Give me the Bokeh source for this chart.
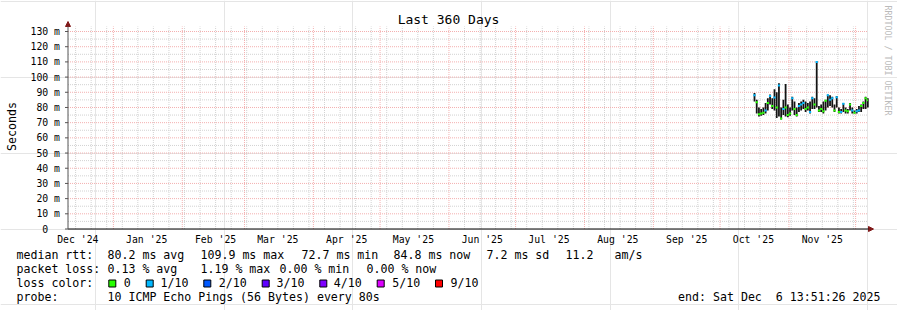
import math
import pandas as pd
from bokeh.plotting import figure
from bokeh.models import Range1d, ColumnDataSource, Arrow, NormalHead
from bokeh.embed import file_html
from bokeh.resources import INLINE
from bokeh.core.properties import value

# ---------------- data ----------------
end_time = "2025-12-06 13:51:26"
span_days = 360
first_day = "2025-10-16"

median_ms = [88.0, 83.5, 75.5, 76.0, 76.5, 78.0, 83.0, 87.5, 81.0, 86.5,
             80.0, 94.5, 72.7, 79.0, 80.0, 75.0, 76.0, 86.0, 79.0, 75.0,
             81.0, 82.0, 83.0, 79.0, 80.0, 77.0, 86.0, 82.0, 109.9, 78.0,
             79.0, 77.5, 84.5, 88.0, 85.0, 86.0, 78.0, 86.7, 77.0, 77.0,
             82.5, 78.0, 77.5, 82.0, 78.0, 76.5, 77.5, 78.0, 81.0, 83.0,
             86.0, 84.8]
smoke_lo_ms = [84, 76, 74, 74.5, 75, 76, 78, 82, 79, 78,
               73, 74, 72, 75, 74, 73.5, 74.5, 78, 75, 74,
               77, 78, 79, 77, 78, 76, 79, 79, 80, 77,
               77, 76, 78, 80, 81, 80, 77, 80, 76, 76,
               77, 76, 76, 78, 76, 76, 76, 77, 77, 79,
               79, 80]
smoke_hi_ms = [89.5, 85, 80, 79, 80, 83, 86, 88.5, 86, 92,
               90, 96, 80, 85, 95.5, 82, 80, 87, 84, 80,
               83, 84, 85, 84, 83, 84, 87, 86, 110.5, 81,
               82, 84, 85, 88.5, 88, 87, 82, 87.5, 80, 79,
               83, 80, 79, 83, 80, 78, 79, 81, 82, 84,
               87, 86]
loss_tenths = [1, 0, 0, 0, 0, 1, 0, 1, 0, 1,
               0, 1, 0, 1, 0, 0, 0, 1, 0, 0,
               1, 1, 1, 0, 0, 1, 1, 0, 1, 0,
               0, 0, 0, 1, 1, 1, 0, 1, 0, 1,
               1, 0, 0, 0, 1, 0, 1, 1, 0, 0,
               0, 0]

loss_levels = ["0", "1/10", "2/10", "3/10", "4/10", "5/10", "9/10"]
loss_colors = ["#26ff00", "#00b8ff", "#0059ff", "#5e00ff", "#7e00ff", "#dd00ff", "#ff0000"]

y_ticks = list(range(0, 131, 10))
y_minor = list(range(5, 131, 10))
y_top = 133.3
y_tick_labels = ["0\u00a0\u00a0"] + ["%d m" % v for v in y_ticks[1:]]

title_text = "Last 360 Days"
y_label = "Seconds"
row_heads = ["median rtt:", "packet loss:", "loss color:", "probe:"]
rtt_items = ["80.2 ms avg", "109.9 ms max", "72.7 ms min", "84.8 ms now", "7.2 ms sd", "11.2", "am/s"]
loss_items = ["0.13 % avg", "1.19 % max", "0.00 % min", "0.00 % now"]
probe_text = "10 ICMP Echo Pings (56 Bytes) every 80s"
end_text = "end: Sat Dec\u00a0\u00a06 13:51:26 2025"
watermark = "RRDTOOL / TOBI OETIKER"

# ---------------- layout constants (pixels) ----------------
W, H = 897, 310
PLOT_L, PLOT_R = 67.5, 867.5      # x of start / end of the time axis
PLOT_B, PLOT_T = 228.5, 26        # y of 0 and of the top limit
MONO = "DejaVu Sans Mono"

# ---------------- scales ----------------
DAY = 86400000.0
END = pd.Timestamp(end_time)
START = END - pd.Timedelta(days=span_days)
end_ms = END.value / 1e6
start_ms = START.value / 1e6
mpp = (end_ms - start_ms) / (PLOT_R - PLOT_L)          # ms per pixel
ppu = (PLOT_B - PLOT_T) / y_top                         # pixels per y unit

p = figure(width=W, height=H, title=None,
           x_range=Range1d(start_ms - PLOT_L * mpp, start_ms + (W - PLOT_L) * mpp),
           y_range=Range1d(-(H - PLOT_B) / ppu, PLOT_B / ppu),
           toolbar_location=None, output_backend="svg", min_border=0,
           x_axis_location=None, y_axis_location=None)
p.extra_x_ranges = {"px": Range1d(0, W)}
p.extra_y_ranges = {"py": Range1d(H, 0)}
p.outline_line_color = None
p.background_fill_color = "white"
p.border_fill_color = "white"

# ---------------- grid ----------------
month_starts = [d.value / 1e6 for d in pd.date_range("2024-12-01", "2025-12-01", freq="MS")]
month_starts = [m for m in month_starts if start_ms < m < end_ms]
week_starts = [d.value / 1e6 for d in pd.date_range("2024-12-08", "2025-12-07", freq="W-SUN")]
week_starts = [w for w in week_starts if start_ms < w < end_ms and w not in month_starts]
label_months = pd.date_range("2024-12-01", "2025-11-01", freq="MS")
label_pos = [(d + pd.Timedelta(days=15)).value / 1e6 for d in label_months]
label_txt = [d.strftime("%b '%y") for d in label_months]

MINOR = "#d2d2d2"
MAJOR = "#f4b0b0"
p.segment(x0=week_starts, y0=0, x1=week_starts, y1=y_top, line_color=MINOR, line_dash="1 1", line_width=1)
p.segment(x0=start_ms, y0=y_minor, x1=end_ms, y1=y_minor, line_color=MINOR, line_dash="1 1", line_width=1)
p.segment(x0=month_starts, y0=0, x1=month_starts, y1=y_top, line_color=MAJOR, line_dash="1 1", line_width=1)
p.segment(x0=start_ms, y0=y_ticks[1:], x1=end_ms, y1=y_ticks[1:], line_color=MAJOR, line_dash="1 1", line_width=1)

# ---------------- data marks ----------------
days = pd.date_range(first_day, periods=len(median_ms), freq="D")
centers = [d.value / 1e6 + DAY / 2 for d in days]
src = ColumnDataSource(dict(
    t=centers,
    x0=[c - DAY / 2 for c in centers],
    x1=[min(c + DAY / 2, end_ms) for c in centers],
    med=median_ms, lo=smoke_lo_ms, hi=smoke_hi_ms,
    color=[loss_colors[l] for l in loss_tenths],
))
p.vbar(x="t", width=0.8 * DAY, bottom="lo", top="hi", source=src,
       fill_color="#141414", line_color=None)
p.segment(x0="x0", y0="med", x1="x1", y1="med", source=src,
          line_color="color", line_width=2)

# ---------------- axes ----------------
p.ray(x=start_ms, y=y_ticks, length=3, angle=math.pi, length_units="screen",
      line_color="#555555", line_width=1)
p.add_layout(Arrow(end=NormalHead(size=5, fill_color="#801818", line_color="#801818"),
                   x_start=start_ms, y_start=0, x_end=end_ms + 5.5 * mpp, y_end=0,
                   line_color="black", line_width=1))
p.add_layout(Arrow(end=NormalHead(size=5, fill_color="#801818", line_color="#801818"),
                   x_start=start_ms, y_start=0, x_end=start_ms, y_end=(PLOT_B - 21) / ppu,
                   line_color="#555555", line_width=1))

TXT = dict(text_font=value(MONO), text_color="black", text_baseline="middle")

# tick labels
p.text(x=59.5, y=y_ticks, text=y_tick_labels, x_range_name="px",
       text_font_size="9.8px", text_align="right", **TXT)
p.text(x=label_pos, y=238.5, text=label_txt, y_range_name="py",
       text_font_size="9.8px", text_align="center", **TXT)

# title, axis label, watermark
p.text(x=[448], y=[19], text=[title_text], x_range_name="px", y_range_name="py",
       text_font_size="13px", text_align="center", **TXT)
p.text(x=[11.5], y=[126], text=[y_label], angle=math.pi / 2, x_range_name="px", y_range_name="py",
       text_font_size="11.6px", text_align="center", **TXT)
p.text(x=[887.5], y=[60], text=[watermark], angle=-math.pi / 2, x_range_name="px", y_range_name="py",
       text_font=value(MONO), text_font_size="8.3px", text_color="#bbbbbb",
       text_align="center", text_baseline="middle")

# ---------------- legend ----------------
row_y = [254.3, 268.3, 282.3, 296.2]
rtt_x = [107, 200, 301, 393, 486, 565, 614]
loss_x = [107, 200, 279, 366]
sq_left = [108.3, 145.7, 203.3, 261.7, 319.3, 376.7, 435]
sq_label_x = [123.3, 160, 218.3, 276, 333.3, 391.7, 450]

tx, ty, tt = [], [], []
for s, y in zip(row_heads, row_y):
    tx.append(16); ty.append(y); tt.append(s)
for s, x in zip(rtt_items, rtt_x):
    tx.append(x); ty.append(row_y[0]); tt.append(s)
for s, x in zip(loss_items, loss_x):
    tx.append(x); ty.append(row_y[1]); tt.append(s)
for s, x in zip(loss_levels, sq_label_x):
    tx.append(x); ty.append(row_y[2]); tt.append(s)
tx.append(107); ty.append(row_y[3]); tt.append(probe_text)

p.text(x=tx, y=ty, text=tt, x_range_name="px", y_range_name="py",
       text_font_size="11.6px", text_align="left", **TXT)
p.text(x=[880], y=[row_y[3]], text=[end_text], x_range_name="px", y_range_name="py",
       text_font_size="11.6px", text_align="right", **TXT)
p.rect(x=[s + 3.5 for s in sq_left], y=283, width=7, height=7,
       x_range_name="px", y_range_name="py",
       fill_color=loss_colors, line_color="black", line_width=1)

open("out.html", "w").write(file_html(p, INLINE))
